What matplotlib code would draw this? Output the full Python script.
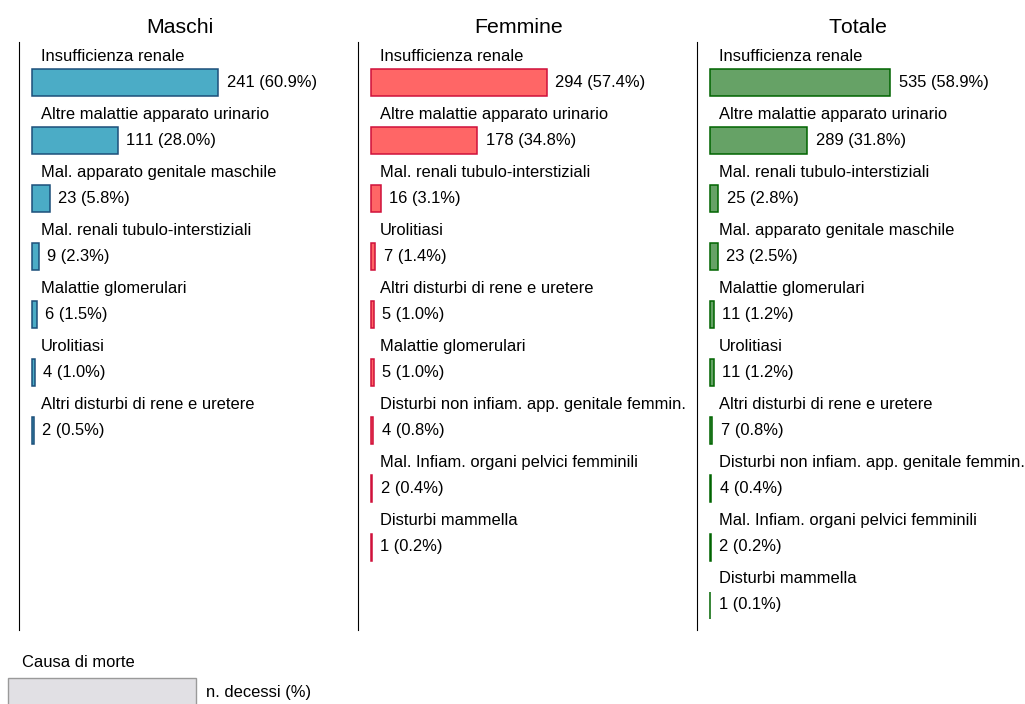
import matplotlib
matplotlib.use('Agg')
import matplotlib.pyplot as plt
from matplotlib.patches import Rectangle

plt.rcParams['font.family'] = ['Liberation Sans', 'DejaVu Sans']
plt.rcParams['text.kerning_factor'] = 6  # no kerning, so "111" is not squeezed

# --- data -------------------------------------------------------------------
panel_titles = ['Maschi', 'Femmine', 'Totale']

maschi_causes = [
    'Insufficienza renale',
    'Altre malattie apparato urinario',
    'Mal. apparato genitale maschile',
    'Mal. renali tubulo-interstiziali',
    'Malattie glomerulari',
    'Urolitiasi',
    'Altri disturbi di rene e uretere',
]
maschi_deaths = [241, 111, 23, 9, 6, 4, 2]

femmine_causes = [
    'Insufficienza renale',
    'Altre malattie apparato urinario',
    'Mal. renali tubulo-interstiziali',
    'Urolitiasi',
    'Altri disturbi di rene e uretere',
    'Malattie glomerulari',
    'Disturbi non infiam. app. genitale femmin.',
    'Mal. Infiam. organi pelvici femminili',
    'Disturbi mammella',
]
femmine_deaths = [294, 178, 16, 7, 5, 5, 4, 2, 1]

totale_causes = [
    'Insufficienza renale',
    'Altre malattie apparato urinario',
    'Mal. renali tubulo-interstiziali',
    'Mal. apparato genitale maschile',
    'Malattie glomerulari',
    'Urolitiasi',
    'Altri disturbi di rene e uretere',
    'Disturbi non infiam. app. genitale femmin.',
    'Mal. Infiam. organi pelvici femminili',
    'Disturbi mammella',
]
totale_deaths = [535, 289, 25, 23, 11, 11, 7, 4, 2, 1]

fill_colors = ['#4BACC6', '#FF6666', '#66A266']
edge_colors = ['#1C4F7A', '#D0103A', '#006400']

legend_title = 'Causa di morte'
legend_label = 'n. decessi (%)'

# --- layout (pixels) --------------------------------------------------------
FIG_W, FIG_H, DPI = 1025, 704, 100
PANEL_X = [19, 358, 697]
PANEL_W = 322
PANEL_TOP, PANEL_BOTTOM = 42, 630
BAR_OFFSET_PX = 13
PX_PER_PCT = 3.06
ROW_PX = 58
FIRST_ROW_PX = 83
FONT_SIZE = 11.9

fig = plt.figure(figsize=(FIG_W / DPI, FIG_H / DPI), dpi=DPI)

panels = [
    (maschi_causes, maschi_deaths),
    (femmine_causes, femmine_deaths),
    (totale_causes, totale_deaths),
]

for idx, (causes, deaths) in enumerate(panels):
    left = PANEL_X[idx]
    ax = fig.add_axes([
        left / FIG_W,
        1 - PANEL_BOTTOM / FIG_H,
        PANEL_W / FIG_W,
        (PANEL_BOTTOM - PANEL_TOP) / FIG_H,
    ])
    total = sum(deaths)
    pcts = [d / total * 100 for d in deaths]
    rows = list(range(len(deaths)))

    ax.barh(rows, pcts, height=27 / ROW_PX, left=0,
            color=fill_colors[idx], edgecolor=edge_colors[idx], linewidth=1.1)

    x_min = -BAR_OFFSET_PX / PX_PER_PCT
    ax.set_xlim(x_min, x_min + PANEL_W / PX_PER_PCT)
    ax.set_ylim((PANEL_BOTTOM - FIRST_ROW_PX) / ROW_PX,
                (PANEL_TOP - FIRST_ROW_PX) / ROW_PX)

    for row, cause, n, pct in zip(rows, causes, deaths, pcts):
        ax.text(9 / PX_PER_PCT, row - 22 / ROW_PX, cause,
                fontsize=FONT_SIZE, va='baseline', ha='left', clip_on=False)
        ax.annotate(f'{n} ({pct:.1f}%)', xy=(pct, row), xytext=(6, 0),
                    textcoords='offset points', fontsize=FONT_SIZE,
                    va='center', ha='left')

    ax.set_title(panel_titles[idx], fontsize=15.3, pad=6.5)
    for side in ['top', 'right', 'bottom']:
        ax.spines[side].set_visible(False)
    ax.spines['left'].set_linewidth(0.8)
    ax.set_xticks([])
    ax.set_yticks([])
    ax.patch.set_alpha(0)

# legend key at the bottom
fig.text(22 / FIG_W, 1 - 667 / FIG_H, legend_title, fontsize=FONT_SIZE,
         va='baseline', ha='left')
fig.patches.append(Rectangle((8 / FIG_W, 1 - 710 / FIG_H), 188 / FIG_W, 32 / FIG_H,
                             transform=fig.transFigure, facecolor='#E1E0E4',
                             edgecolor='#9A9A9A', linewidth=1.0))
fig.text(206 / FIG_W, 1 - 692 / FIG_H, legend_label, fontsize=FONT_SIZE,
         va='center', ha='left')

fig.savefig('out.png', dpi=DPI)
